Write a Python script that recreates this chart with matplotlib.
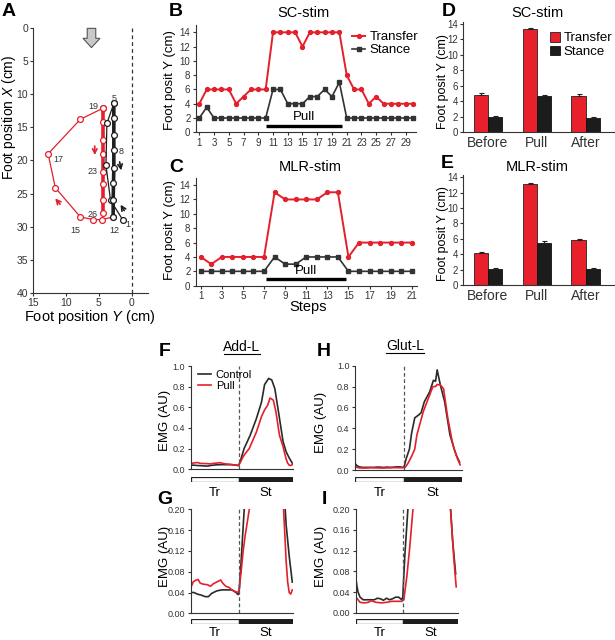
import matplotlib
matplotlib.use('Agg')
import matplotlib.pyplot as plt
from matplotlib.patches import Rectangle, FancyArrow
from matplotlib.lines import Line2D

plt.rcParams['font.family'] = ['Liberation Sans', 'DejaVu Sans']
plt.rcParams['mathtext.fontset'] = 'custom'
plt.rcParams['mathtext.it'] = 'Liberation Sans:italic'
plt.rcParams['mathtext.rm'] = 'Liberation Sans'

# ---------------- data ----------------
# Panel A: foot positions (Y, X) in cm
a_thin_black_Y = [1.3, 3.2, 3.9, 3.75, 2.7]
a_thin_black_X = [29.0, 26.0, 20.7, 14.4, 11.4]
a_thick_black_Y = [2.7, 2.7, 2.7, 2.7, 2.7, 2.75, 2.8, 2.8]
a_thick_black_X = [11.4, 13.6, 16.2, 18.4, 21.1, 23.4, 25.9, 28.5]
a_loop_red_Y = [2.8, 4.5, 5.8, 7.8, 11.6, 12.7, 7.8, 4.3]
a_loop_red_X = [28.5, 28.9, 28.9, 28.5, 24.1, 19.0, 13.8, 12.1]
a_thick_red_Y = [4.3, 4.3, 4.3, 4.3, 4.3, 4.3, 4.3, 4.3]
a_thick_red_X = [12.1, 14.2, 16.9, 19.0, 21.7, 23.5, 25.9, 27.9]
a_step_labels = ['1', '5', '8', '12', '15', '17', '19', '23', '26']
a_step_label_Y = [0.5, 2.7, 1.6, 2.6, 8.6, 11.2, 5.8, 6.0, 5.9]
a_step_label_X = [29.6, 10.6, 18.6, 30.5, 30.6, 19.8, 11.9, 21.7, 28.1]

# Panel B: SC-stim
b_steps = list(range(1, 31))
b_transfer = [4, 6, 6, 6, 6, 4, 5, 6, 6, 6,
              14, 14, 14, 14, 12, 14, 14, 14, 14, 14,
              8, 6, 6, 4, 5, 4, 4, 4, 4, 4]
b_stance = [2, 3.5, 2, 2, 2, 2, 2, 2, 2, 2,
            6, 6, 4, 4, 4, 5, 5, 6, 5, 7,
            2, 2, 2, 2, 2, 2, 2, 2, 2, 2]
b_pull = [10.1, 20.4]

# Panel C: MLR-stim
c_steps = list(range(1, 22))
c_transfer = [4, 3, 4, 4, 4, 4, 4, 13, 12, 12, 12, 12, 13, 13, 4, 6, 6, 6, 6, 6, 6]
c_stance = [2, 2, 2, 2, 2, 2, 2, 4, 3, 3, 4, 4, 4, 4, 2, 2, 2, 2, 2, 2, 2]
c_pull = [7.2, 14.8]

# Panels D, E: means
categories = ['Before', 'Pull', 'After']
d_transfer = [4.8, 13.4, 4.7]
d_transfer_err = [0.3, 0.1, 0.3]
d_stance = [2.0, 4.7, 1.9]
d_stance_err = [0.1, 0.15, 0.05]
e_transfer = [4.2, 13.1, 5.8]
e_transfer_err = [0.12, 0.15, 0.2]
e_stance = [2.1, 5.5, 2.1]
e_stance_err = [0.12, 0.2, 0.1]

# Panels F-I: EMG (normalized cycle)
add_ctrl_x = [0.00, 0.03, 0.06, 0.10, 0.14, 0.17, 0.20, 0.25, 0.30, 0.35, 0.40, 0.44, 0.46, 0.47,
              0.49, 0.52, 0.58, 0.64, 0.69, 0.72, 0.76, 0.79, 0.82, 0.855, 0.90, 0.93, 0.96, 0.99]
add_ctrl_y = [0.040, 0.040, 0.037, 0.035, 0.032, 0.032, 0.038, 0.043, 0.045, 0.045, 0.045, 0.040, 0.036, 0.040,
              0.10, 0.20, 0.33, 0.49, 0.65, 0.82, 0.88, 0.865, 0.78, 0.56, 0.27, 0.17, 0.11, 0.06]
add_pull_x = [0.00, 0.02, 0.04, 0.07, 0.09, 0.12, 0.16, 0.19, 0.22, 0.25, 0.29, 0.31, 0.34, 0.37, 0.40,
              0.43, 0.46, 0.47, 0.49, 0.51, 0.53, 0.57, 0.64, 0.69, 0.72, 0.75, 0.773, 0.805, 0.83,
              0.865, 0.90, 0.93, 0.945, 0.96, 0.975, 0.99]
add_pull_y = [0.050, 0.060, 0.063, 0.065, 0.058, 0.056, 0.055, 0.052, 0.057, 0.060, 0.064, 0.058, 0.052,
              0.050, 0.045, 0.042, 0.040, 0.045, 0.08, 0.12, 0.15, 0.20, 0.36, 0.51, 0.575, 0.62, 0.69,
              0.67, 0.56, 0.33, 0.22, 0.10, 0.06, 0.040, 0.037, 0.045]
glut_ctrl_x = [0.00, 0.01, 0.02, 0.04, 0.07, 0.12, 0.18, 0.21, 0.24, 0.27, 0.30, 0.33, 0.36, 0.39, 0.42,
               0.45, 0.46, 0.48, 0.51, 0.53, 0.56, 0.60, 0.62, 0.65, 0.70, 0.735, 0.755, 0.77, 0.80,
               0.84, 0.89, 0.93, 0.95, 0.98]
glut_ctrl_y = [0.065, 0.050, 0.040, 0.030, 0.025, 0.025, 0.025, 0.028, 0.027, 0.024, 0.028, 0.025, 0.027,
               0.030, 0.030, 0.025, 0.030, 0.11, 0.20, 0.35, 0.50, 0.53, 0.55, 0.655, 0.75, 0.86, 0.85,
               0.96, 0.815, 0.655, 0.336, 0.20, 0.14, 0.075]
glut_pull_x = [0.00, 0.02, 0.04, 0.08, 0.12, 0.15, 0.20, 0.25, 0.30, 0.35, 0.40, 0.45, 0.47, 0.50, 0.53,
               0.56, 0.58, 0.64, 0.70, 0.73, 0.755, 0.77, 0.80, 0.83, 0.87, 0.91, 0.93, 0.96, 0.985]
glut_pull_y = [0.030, 0.025, 0.020, 0.019, 0.020, 0.023, 0.020, 0.019, 0.020, 0.022, 0.022, 0.022, 0.025,
               0.07, 0.13, 0.20, 0.336, 0.56, 0.72, 0.80, 0.80, 0.82, 0.815, 0.78, 0.495, 0.28, 0.20,
               0.11, 0.05]
add_onset = 0.47
glut_onset = 0.46

# ---------------- figure ----------------
W, H = 615, 640
fig = plt.figure(figsize=(W / 100, H / 100), dpi=100)
RED = '#e3202c'
BLK = '#1e1e1e'


def px_axes(l, t, r, b):
    return fig.add_axes([l / W, 1 - b / H, (r - l) / W, (b - t) / H])


def ftext(x, y, s, **kw):
    kw.setdefault('ha', 'center')
    kw.setdefault('va', 'center')
    return fig.text(x / W, 1 - y / H, s, **kw)


def style(ax, fs=7):
    for s in ['top', 'right']:
        ax.spines[s].set_visible(False)
    for s in ['left', 'bottom']:
        ax.spines[s].set_linewidth(0.8)
        ax.spines[s].set_color('#333333')
    ax.tick_params(direction='out', length=2.5, width=0.8, labelsize=fs, pad=1.5, colors='#333333')


# ---- Panel A ----
axA = px_axes(33, 27.7, 148, 293.3)
style(axA, 7.5)
axA.set_xlim(15, -2.5)
axA.set_ylim(40, 0)
axA.set_xticks([15, 10, 5, 0])
axA.set_yticks(range(0, 41, 5))
axA.tick_params(axis='x', pad=1)
axA.tick_params(axis='y', pad=1)
axA.plot([0, 0], [0, 40], ls=(0, (3, 2.5)), color='#333333', lw=0.9)
axA.plot(a_loop_red_Y, a_loop_red_X, color=RED, lw=0.9, marker='o', ms=4.2, mfc='white', mec=RED, mew=0.9)
axA.plot(a_thick_red_Y, a_thick_red_X, color=RED, lw=2.6, marker='o', ms=4.2, mfc='white', mec=RED, mew=0.9)
axA.plot(a_thin_black_Y, a_thin_black_X, color=BLK, lw=0.9, marker='o', ms=4.2, mfc='white', mec=BLK, mew=0.9)
axA.plot(a_thick_black_Y, a_thick_black_X, color=BLK, lw=2.6, marker='o', ms=4.2, mfc='white', mec=BLK, mew=0.9,
         zorder=3)
for lab, yy, xx in zip(a_step_labels, a_step_label_Y, a_step_label_X):
    axA.text(yy, xx, lab, fontsize=6.5, color='#333333', ha='center', va='center')
axA.add_patch(FancyArrow(6.1, 0.1, 0, 2.9, width=1.3, head_width=2.6, head_length=1.4,
                         length_includes_head=True, fc='#c8c8c8', ec='#555555', lw=0.8, clip_on=False))
arr = dict(arrowstyle='->', lw=1.2, mutation_scale=8)
axA.annotate('', xy=(5.6, 19.6), xytext=(5.6, 17.4), arrowprops=dict(arr, color=RED))
axA.annotate('', xy=(11.9, 25.4), xytext=(10.6, 26.9), arrowprops=dict(arr, color=RED))
axA.annotate('', xy=(1.5, 21.9), xytext=(1.9, 19.8), arrowprops=dict(arr, color=BLK))
axA.annotate('', xy=(1.9, 26.3), xytext=(0.9, 27.9), arrowprops=dict(arr, color=BLK))
ftext(9, 117, r'Foot position $\mathit{X}$ (cm)', rotation=90, fontsize=10)
ftext(90, 317, r'Foot position $\mathit{Y}$ (cm)', fontsize=10.5)


def step_panel(l, t, r, b, steps, tr, st, xlim, pull, pull_text_x, ticks, title, title_xy):
    ax = px_axes(l, t, r, b)
    style(ax, 7)
    ax.plot(steps, tr, color=RED, lw=1.4, marker='o', ms=2.8, mec=RED, mfc=RED, label='Transfer')
    ax.plot(steps, st, color='#333333', lw=1.2, marker='s', ms=2.4, mec='#333333', mfc='#333333',
            label='Stance')
    ax.set_xlim(*xlim)
    ax.set_ylim(0, 15)
    ax.set_yticks(range(0, 15, 2))
    ax.set_xticks(ticks)
    ax.plot(pull, [0.9, 0.9], color='black', lw=2.4, solid_capstyle='butt')
    ax.text(pull_text_x, 2.1, 'Pull', fontsize=9.5, ha='center', va='center')
    ftext(title_xy[0], title_xy[1], title, fontsize=10.5)
    return ax


axB = step_panel(196, 25.2, 416, 132.3, b_steps, b_transfer, b_stance, (0.55, 30.4), b_pull, 15.2,
                 list(range(1, 30, 2)), 'SC-stim', (303, 13))
axB.legend(loc='upper left', bbox_to_anchor=(352 / W, 1 - 31 / H), bbox_transform=fig.transFigure,
           frameon=False, fontsize=9.5, handlelength=1.0, handletextpad=0.35, labelspacing=0.05,
           borderpad=0, borderaxespad=0)
axC = step_panel(196, 177.9, 416.7, 285.7, c_steps, c_transfer, c_stance, (0.55, 21.47), c_pull, 11.0,
                 list(range(1, 22, 2)), 'MLR-stim', (310, 167))
ftext(170, 80, 'Foot posit Y (cm)', rotation=90, fontsize=9.5)
ftext(170, 230, 'Foot posit Y (cm)', rotation=90, fontsize=9.5)
ftext(308, 307, 'Steps', fontsize=10.5)


def bar_panel(t, b, tr, tre, st, ste, title, title_y, label_legend):
    ax = px_axes(463.3, t, 615, b)
    style(ax, 7)
    xs = [0, 1, 2]
    w = 0.29
    ax.bar([x - w / 2 for x in xs], tr, w, color='#e8202c', edgecolor='#222222', lw=0.6, label='Transfer')
    ax.bar([x + w / 2 for x in xs], st, w, color='#1c1c1c', edgecolor='#111111', lw=0.6, label='Stance')
    ax.errorbar([x - w / 2 for x in xs], tr, yerr=[[0] * 3, tre], fmt='none', ecolor='#222222',
                elinewidth=0.8, capsize=1.8, capthick=0.8)
    ax.errorbar([x + w / 2 for x in xs], st, yerr=[[0] * 3, ste], fmt='none', ecolor='#222222',
                elinewidth=0.8, capsize=1.8, capthick=0.8)
    ax.set_xlim(-0.5, 2.6)
    ax.set_ylim(0, 14.3)
    ax.set_yticks(range(0, 15, 2))
    ax.set_xticks(xs)
    ax.set_xticklabels(categories, fontsize=10)
    ax.tick_params(axis='x', length=0, pad=3)
    ftext(537, title_y, title, fontsize=10.5)
    if label_legend:
        ax.legend(loc='upper left', bbox_to_anchor=(550 / W, 1 - 32 / H), bbox_transform=fig.transFigure,
                  frameon=False, fontsize=9.5, handlelength=0.75, handleheight=0.75, handletextpad=0.3,
                  labelspacing=0.1, borderpad=0, borderaxespad=0)
    return ax


axD = bar_panel(21.6, 132.3, d_transfer, d_transfer_err, d_stance, d_stance_err, 'SC-stim', 13, True)
axE = bar_panel(175.0, 285.0, e_transfer, e_transfer_err, e_stance, e_stance_err, 'MLR-stim', 167, False)
ftext(443, 82, 'Foot posit Y (cm)', rotation=90, fontsize=9)
ftext(443, 234, 'Foot posit Y (cm)', rotation=90, fontsize=9)


def emg_panel(l, t, r, b, bar_t, bar_b, label_y, ctrl_x, ctrl_y, pull_x, pull_y, onset, ymax, ticks, fmt):
    ax = px_axes(l, t, r, b)
    style(ax, 6.5)
    ax.plot(ctrl_x, ctrl_y, color='#2a2a2a', lw=1.2, label='Control')
    ax.plot(pull_x, pull_y, color=RED, lw=1.2, label='Pull')
    ax.axvline(onset, ls=(0, (3, 2)), color='#555555', lw=0.9)
    ax.set_xlim(0, 1)
    ax.set_ylim(0, ymax)
    ax.set_xticks([])
    ax.set_yticks(ticks)
    ax.set_yticklabels([fmt.format(v) for v in ticks])
    bx = px_axes(l, bar_t, r, bar_b)
    bx.set_xlim(0, 1)
    bx.set_ylim(0, 1)
    bx.axis('off')
    bx.add_patch(Rectangle((0, 0), onset, 1, fc='white', ec='#222222', lw=0.9))
    bx.add_patch(Rectangle((onset, 0), 1 - onset, 1, fc='#1e1e1e', ec='#222222', lw=0.9))
    ftext(l + (r - l) * onset / 2, label_y, 'Tr', fontsize=9.5)
    ftext(l + (r - l) * (1 + onset) / 2, label_y, 'St', fontsize=9.5)
    return ax


axF = emg_panel(190.7, 366, 293.3, 469.3, 476.5, 482, 493, add_ctrl_x, add_ctrl_y, add_pull_x, add_pull_y,
                add_onset, 1.0, [0, 0.2, 0.4, 0.6, 0.8, 1.0], '{:.1f}')
axF.legend(loc='upper left', bbox_to_anchor=(198 / W, 1 - 370 / H), bbox_transform=fig.transFigure,
           frameon=False, fontsize=8, handlelength=1.2, handletextpad=0.4, labelspacing=0.1,
           borderpad=0, borderaxespad=0)
axG = emg_panel(191, 509.3, 293.3, 613.3, 619.3, 624.3, 632.5, add_ctrl_x, add_ctrl_y, add_pull_x, add_pull_y,
                add_onset, 0.2, [0, 0.04, 0.08, 0.12, 0.16, 0.2], '{:.2f}')
axH = emg_panel(355, 365.7, 461.7, 470, 476.5, 482, 493, glut_ctrl_x, glut_ctrl_y, glut_pull_x, glut_pull_y,
                glut_onset, 1.0, [0, 0.2, 0.4, 0.6, 0.8, 1.0], '{:.1f}')
axI = emg_panel(356, 509.3, 457.7, 612.7, 619.3, 624.3, 632.5, glut_ctrl_x, glut_ctrl_y, glut_pull_x, glut_pull_y,
                glut_onset, 0.2, [0, 0.04, 0.08, 0.12, 0.16, 0.2], '{:.2f}')
for x, y in [(165, 420), (165, 556), (321, 422), (321, 556)]:
    ftext(x, y, 'EMG (AU)', rotation=90, fontsize=9.5)

ftext(242, 347, 'Add-L', fontsize=10)
fig.add_artist(Line2D([224 / W, 260 / W], [1 - 354 / H, 1 - 354 / H], color='black', lw=0.8))
ftext(405, 346, 'Glut-L', fontsize=10)
fig.add_artist(Line2D([386 / W, 424 / W], [1 - 353 / H, 1 - 353 / H], color='black', lw=0.8))

# panel letters
for s, x, y in [('A', 9, 12), ('B', 176, 12), ('C', 176, 168), ('D', 449, 12), ('E', 447, 164),
                ('F', 165, 352), ('G', 165, 499), ('H', 324, 352), ('I', 324, 499)]:
    ftext(x, y, s, fontsize=14, fontweight='bold')

fig.savefig('out.png', dpi=100)
